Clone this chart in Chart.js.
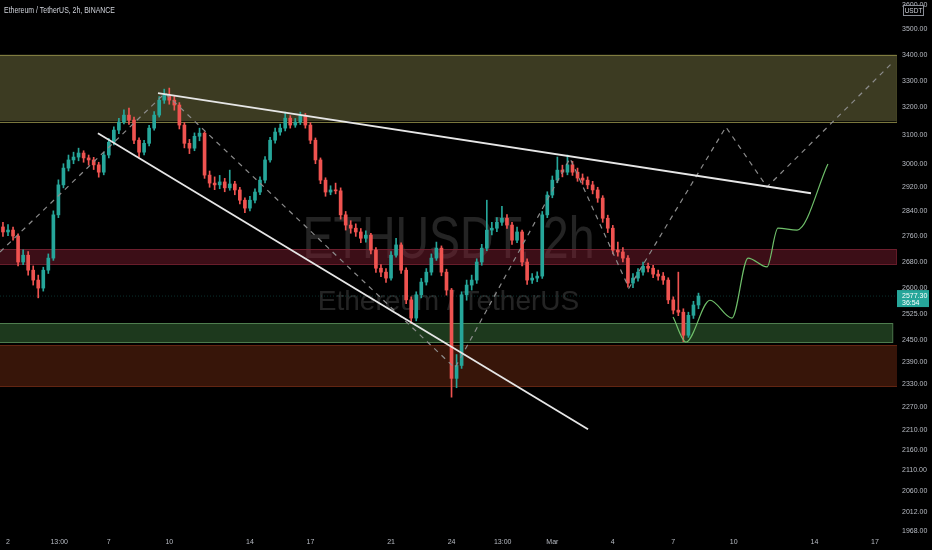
<!DOCTYPE html>
<html>
<head>
<meta charset="utf-8">
<script src="https://cdn.jsdelivr.net/npm/chart.js@4.4.1/dist/chart.umd.min.js"></script>
<style>
  html, body { margin: 0; padding: 0; background: #000; }
  #wrap { position: relative; width: 932px; height: 550px; }
</style>
</head>
<body>
<div id="wrap"><canvas id="ethChart"></canvas></div>
<script>
// x axis = day of month (Feb), Mar d = 28 + d. 6h candles starting Feb 1 18:00
const candleStart = 1.75;
const candleStep = 0.25;
const firstOpen = 2790;

const closes = [
  2774, 2780, 2761, 2680, 2701, 2655, 2625, 2601, 2655, 2692,
  2829, 2928, 2985, 3013, 3023, 3037, 3020, 3013, 2996, 2971,
  3030, 3075, 3118, 3147, 3172, 3154, 3082, 3040, 3071, 3125,
  3172, 3227, 3246, 3227, 3209, 3136, 3071, 3054, 3096, 3107,
  2961, 2934, 2928, 2938, 2918, 2931, 2911, 2877, 2851, 2877,
  2904, 2944, 3013, 3082, 3111, 3125, 3161, 3136, 3147, 3169,
  3136, 3082, 3013, 2944, 2904, 2911, 2908, 2829, 2796, 2786,
  2774, 2754, 2764, 2717, 2661, 2649, 2631, 2701, 2733, 2655,
  2566, 2513, 2581, 2619, 2649, 2692, 2723, 2649, 2595, 2345,
  2380, 2581, 2610, 2625, 2680, 2723, 2780, 2786, 2805, 2818,
  2796, 2748, 2774, 2680, 2625, 2631, 2637, 2829, 2894, 2944,
  2978, 2971, 2996, 2971, 2951, 2944, 2928, 2911, 2884, 2818,
  2786, 2717, 2711, 2692, 2616, 2631, 2649, 2667, 2661, 2643,
  2637, 2625, 2566, 2536, 2530, 2464, 2521, 2551, 2577.3
];
const highs = [
  2805, 2798, 2790, 2768, 2718, 2712, 2668, 2640, 2664, 2705,
  2842, 2945, 3000, 3030, 3040, 3054, 3045, 3030, 3022, 3005,
  3040, 3088, 3130, 3160, 3191, 3198, 3165, 3090, 3082, 3135,
  3185, 3240, 3268, 3272, 3245, 3218, 3145, 3085, 3108, 3125,
  3112, 2975, 2955, 2960, 2950, 2978, 2940, 2920, 2885, 2890,
  2915, 2955, 3025, 3092, 3125, 3140, 3183, 3170, 3160, 3183,
  3178, 3145, 3090, 3020, 2952, 2925, 2934, 2918, 2840, 2810,
  2800, 2785, 2778, 2770, 2725, 2672, 2660, 2712, 2754, 2740,
  2662, 2575, 2590, 2630, 2660, 2705, 2742, 2730, 2658, 2600,
  2410, 2590, 2625, 2640, 2690, 2735, 2877, 2805, 2820, 2857,
  2830, 2805, 2790, 2780, 2690, 2645, 2650, 2840, 2905, 2958,
  3023, 2995, 3030, 3008, 2985, 2965, 2955, 2940, 2920, 2892,
  2828, 2795, 2742, 2725, 2700, 2645, 2660, 2680, 2677, 2670,
  2655, 2648, 2632, 2575, 2649, 2540, 2530, 2562, 2586
];
const lows = [
  2760, 2762, 2748, 2668, 2672, 2640, 2610, 2572, 2592, 2645,
  2685, 2820, 2918, 2975, 3000, 3010, 3005, 2995, 2980, 2954,
  2962, 3020, 3065, 3105, 3140, 3138, 3070, 3023, 3030, 3062,
  3118, 3165, 3215, 3212, 3190, 3122, 3055, 3035, 3045, 3080,
  2950, 2920, 2912, 2915, 2905, 2910, 2895, 2865, 2836, 2842,
  2868, 2895, 2935, 3005, 3072, 3100, 3115, 3125, 3128, 3138,
  3125, 3070, 3000, 2932, 2890, 2895, 2898, 2815, 2780, 2770,
  2760, 2740, 2742, 2705, 2648, 2635, 2618, 2625, 2695, 2645,
  2555, 2498, 2505, 2572, 2610, 2640, 2685, 2638, 2580, 2295,
  2320, 2372, 2565, 2595, 2615, 2670, 2715, 2765, 2775, 2795,
  2785, 2735, 2740, 2668, 2612, 2615, 2620, 2630, 2820, 2885,
  2935, 2955, 2962, 2960, 2940, 2930, 2915, 2898, 2870, 2805,
  2772, 2705, 2698, 2680, 2604, 2602, 2622, 2640, 2650, 2632,
  2625, 2612, 2555, 2525, 2520, 2446, 2458, 2512, 2540
];

const timeTicks = [2, 4.54, 7, 10, 14, 17, 21, 24, 26.54, 29, 32, 35, 38, 42, 45];
const timeLabels = ['2', '13:00', '7', '10', '14', '17', '21', '24', '13:00', 'Mar', '4', '7', '10', '14', '17'];
const priceTicks = [3600, 3500, 3400, 3300, 3200, 3100, 3000, 2920, 2840, 2760, 2680, 2600,
  2525, 2450, 2390, 2330, 2270, 2210, 2160, 2110, 2060, 2012, 1968];

// supply / demand boxes
const zoneTop = [3400, 2720, 2498, 2436];
const zoneBottom = [3150, 2674, 2444, 2323];
const zoneEnd = [46.08, 46.05, 45.86, 46.08];

// drawings
const upperTrendDays = [9.44, 41.83];
const upperTrendPrices = [3253, 2900];
const lowerTrendDays = [6.46, 30.77];
const lowerTrendPrices = [3107, 2212];
const zigzagDays = [1.603, 9.79, 24.17, 29.88, 32.80, 37.61, 39.65, 45.90];
const zigzagPrices = [2711, 3253, 2373, 3019, 2601, 3129, 2921, 3371];
const projDays = [34.99, 35.63, 36.82, 37.91, 38.71, 39.65, 40.19, 41.14, 42.67];
const projPrices = [2516, 2445, 2565, 2513, 2692, 2665, 2786, 2780, 2999];

const lastPrice = 2577.30;
const countdown = '36:54';

const X_MIN = 1.603, X_MAX = 46.097;
const UP = '#26a69a', DOWN = '#ef5350';
const AXIS_TEXT = '#b8bcc4';
const FONT = '"Liberation Sans", Arial, sans-serif';

const opens = closes.map((c, i) => i === 0 ? firstOpen : closes[i - 1]);
const times = closes.map((c, i) => candleStart + i * candleStep);
const colors = closes.map((c, i) => c >= opens[i] ? UP : DOWN);

const toPts = (xs, ys) => xs.map((x, i) => ({ x: x, y: ys[i] }));

const zoneFill = ['rgba(120,118,68,0.5)', 'rgba(130,30,50,0.46)', 'rgba(60,120,60,0.48)', 'rgba(120,45,20,0.46)'];
const zoneStroke = ['rgba(135,132,68,0.9)', 'rgba(115,32,48,0.9)', 'rgba(85,135,85,0.9)', 'rgba(105,40,20,0.9)'];

// draw text squeezed to a given width
function fitText(ctx, text, x, y, width) {
  const w = ctx.measureText(text).width;
  ctx.save();
  ctx.translate(x, y);
  ctx.scale(Math.min(1, width / w), 1);
  ctx.fillText(text, 0, 0);
  ctx.restore();
}

const backdrop = {
  id: 'backdrop',
  beforeDatasetsDraw(chart) {
    const { ctx, chartArea: a, scales: { x, y } } = chart;
    ctx.save();
    ctx.beginPath();
    ctx.rect(a.left, a.top, a.right - a.left, a.bottom - a.top);
    ctx.clip();

    // watermark
    const cx = (a.left + a.right) / 2;
    ctx.fillStyle = 'rgba(255,255,255,0.14)';
    ctx.textAlign = 'center';
    ctx.textBaseline = 'alphabetic';
    ctx.font = '60px ' + FONT;
    fitText(ctx, 'ETHUSDT, 2h', cx, 258, 292);
    ctx.font = '28px ' + FONT;
    ctx.fillText('Ethereum / TetherUS', cx, 310);

    // boxes
    zoneTop.forEach((top, i) => {
      const x0 = a.left - 2;
      const x1 = x.getPixelForValue(zoneEnd[i]);
      const y0 = y.getPixelForValue(top);
      const y1 = y.getPixelForValue(zoneBottom[i]);
      ctx.fillStyle = zoneFill[i];
      ctx.fillRect(x0, y0, x1 - x0, y1 - y0);
      ctx.strokeStyle = zoneStroke[i];
      ctx.lineWidth = 1;
      ctx.strokeRect(x0 + 0.5, Math.round(y0) + 0.5, x1 - x0, Math.round(y1 - y0));
    });
    ctx.restore();
  },
  afterDraw(chart) {
    const { ctx, chartArea: a, scales: { y } } = chart;
    ctx.save();
    // title
    ctx.fillStyle = '#d1d4dc';
    ctx.font = '8.5px ' + FONT;
    ctx.textAlign = 'left';
    ctx.textBaseline = 'middle';
    fitText(ctx, 'Ethereum / TetherUS, 2h, BINANCE', 4, 11, 111);

    // currency box
    ctx.fillStyle = '#000';
    ctx.fillRect(903, 5, 21, 11);
    ctx.strokeStyle = '#8a8d96';
    ctx.strokeRect(903.5, 5.5, 20, 10);
    ctx.fillStyle = '#d1d4dc';
    ctx.font = '6.5px ' + FONT;
    ctx.textAlign = 'center';
    ctx.fillText('USDT', 913.5, 10.8);

    // last price label
    const py = y.getPixelForValue(lastPrice);
    ctx.fillStyle = UP;
    ctx.fillRect(a.right, py - 6, 32, 17);
    ctx.fillStyle = '#fff';
    ctx.font = '7px ' + FONT;
    ctx.textAlign = 'left';
    ctx.fillText(lastPrice.toFixed(2), a.right + 5, py);
    ctx.fillText(countdown, a.right + 5, py + 7.5);
    ctx.restore();
  }
};

new Chart(document.getElementById('ethChart'), {
  type: 'bar',
  data: {
    datasets: [
      {
        type: 'line',
        data: toPts([X_MIN, X_MAX], [lastPrice, lastPrice]),
        borderColor: 'rgba(38,166,154,0.3)',
        borderWidth: 1,
        borderDash: [1, 2],
        pointRadius: 0,
        order: 5
      },
      {
        label: 'wicks',
        data: times.map((t, i) => ({ x: t, y: [lows[i], highs[i]] })),
        backgroundColor: colors,
        barThickness: 1,
        grouped: false,
        order: 4
      },
      {
        label: 'bodies',
        data: times.map((t, i) => ({ x: t, y: [opens[i], closes[i]] })),
        backgroundColor: colors,
        barThickness: 3,
        minBarLength: 1,
        grouped: false,
        order: 3
      },
      {
        type: 'line',
        data: toPts(zigzagDays, zigzagPrices),
        borderColor: '#8c8c8c',
        borderWidth: 1.2,
        borderDash: [5, 5],
        pointRadius: 0,
        order: 2
      },
      {
        type: 'line',
        data: toPts(upperTrendDays, upperTrendPrices),
        borderColor: '#e6e6e6',
        borderWidth: 1.8,
        pointRadius: 0,
        order: 1
      },
      {
        type: 'line',
        data: toPts(lowerTrendDays, lowerTrendPrices),
        borderColor: '#e6e6e6',
        borderWidth: 1.8,
        pointRadius: 0,
        order: 1
      },
      {
        type: 'line',
        data: toPts(projDays, projPrices),
        borderColor: '#6fbf6a',
        borderWidth: 1.2,
        pointRadius: 0,
        cubicInterpolationMode: 'monotone',
        order: 1
      }
    ]
  },
  options: {
    responsive: true,
    maintainAspectRatio: false,
    animation: false,
    events: [],
    layout: { padding: 0 },
    plugins: { legend: { display: false }, tooltip: { enabled: false } },
    scales: {
      x: {
        type: 'linear',
        min: X_MIN,
        max: X_MAX,
        offset: false,
        grid: { display: false, drawTicks: false, offset: false },
        border: { display: false },
        afterBuildTicks: s => { s.ticks = timeTicks.map(v => ({ value: v })); },
        afterFit: s => { s.height = 14; s.paddingLeft = 0; s.paddingRight = 0; },
        ticks: {
          color: AXIS_TEXT,
          font: { size: 7, family: FONT },
          padding: 2,
          maxRotation: 0,
          autoSkip: false,
          callback: (v, i) => timeLabels[i]
        }
      },
      y: {
        type: 'logarithmic',
        position: 'right',
        min: 1957,
        max: 3620,
        grid: { display: false, drawTicks: false },
        border: { display: false },
        afterBuildTicks: s => { s.ticks = priceTicks.map(v => ({ value: v })); },
        afterFit: s => { s.width = 35; s.paddingTop = 0; s.paddingBottom = 0; },
        ticks: {
          color: AXIS_TEXT,
          font: { size: 7, family: FONT },
          padding: 5,
          autoSkip: false,
          callback: v => Number(v).toFixed(2)
        }
      }
    }
  },
  plugins: [backdrop]
});
</script>
</body>
</html>
